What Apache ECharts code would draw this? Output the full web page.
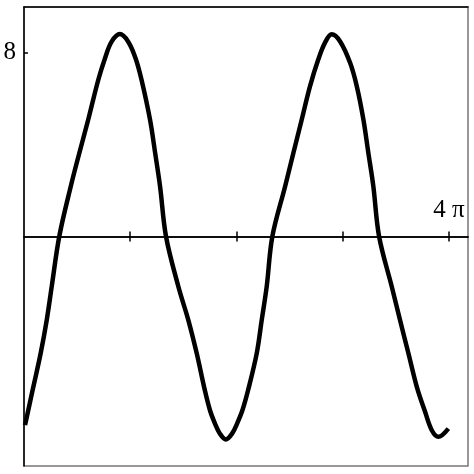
<!DOCTYPE html>
<html>
<head>
<meta charset="utf-8">
<script src="https://cdn.jsdelivr.net/npm/echarts@6/dist/echarts.min.js"></script>
<style>
  html, body { margin: 0; padding: 0; background: #fff; }
  #chart { width: 474px; height: 474px; }
</style>
</head>
<body>
<div id="chart"></div>
<script>
// x positions in units of pi
var xPi = [0.01, 0.088, 0.157, 0.214, 0.261, 0.332, 0.440, 0.521, 0.605, 0.699, 0.762, 0.825, 0.903, 0.981,
    1.051, 1.107, 1.186, 1.234, 1.281, 1.337, 1.453, 1.547, 1.626, 1.700, 1.750, 1.797, 1.843, 1.900, 1.960,
    2.007, 2.057, 2.110, 2.191, 2.238, 2.285, 2.338, 2.458, 2.536, 2.615, 2.693, 2.771, 2.834, 2.897, 2.976,
    3.070, 3.133, 3.195, 3.242, 3.289, 3.343, 3.462, 3.540, 3.619, 3.698, 3.776, 3.839, 3.901, 3.995];
// curve values
var yVal = [-8.22, -6.55, -5.09, -3.64, -2.18, 0, 2.18, 3.64, 5.10, 6.82, 7.76, 8.49, 8.82, 8.49,
    7.76, 6.82, 5.10, 3.66, 2.18, 0, -2.18, -3.64, -5.09, -6.65, -7.56, -8.14, -8.58, -8.84, -8.58,
    -8.14, -7.56, -6.69, -5.09, -3.64, -2.18, 0, 2.18, 3.64, 5.10, 6.55, 7.72, 8.45, 8.81, 8.50,
    7.57, 6.55, 5.10, 3.64, 2.18, 0, -2.18, -3.64, -5.09, -6.55, -7.64, -8.44, -8.73, -8.37];
var xTicks = [1, 2, 3, 4];
var xLabels = [4];
var yTicks = [-8, 8];
var yLabels = [8];

var chart = echarts.init(document.getElementById('chart'));

var pts = [];
for (var i = 0; i < xPi.length; i++) {
    pts.push([xPi[i], yVal[i]]);
}

var font = "'Liberation Serif', 'DejaVu Serif', serif";
var xMax = 4.18;
// main plot box is 474 - 7 - 8 = 459 px high, so y = 0 sits 229.5 px below its top
var zeroTop = 7 + 229.5;

var option = {
    animation: false,
    grid: [
        { left: 24, right: 6, top: 7, bottom: 8, show: true, borderColor: '#777', borderWidth: 1.5 },
        { left: 24, right: 6, top: 7, bottom: 474 - zeroTop },   // upper half, its bottom edge is the zero line
        { left: 24, right: 6, top: zeroTop, bottom: 8 }          // lower half, its top edge is the zero line
    ],
    xAxis: [
        {   // black top edge, carries the curve
            gridIndex: 0, type: 'value', min: 0, max: xMax, position: 'top',
            axisLine: { onZero: false, lineStyle: { color: '#000', width: 1.5 } },
            axisTick: { show: false },
            axisLabel: { show: false },
            splitLine: { show: false }
        },
        {   // zero line, ticks up, label above
            gridIndex: 1, type: 'value', min: 0, max: xMax, position: 'bottom',
            axisLine: { onZero: false, lineStyle: { color: '#000', width: 1.5 } },
            axisTick: { inside: true, length: 5, customValues: xTicks, lineStyle: { color: '#000', width: 1.5 } },
            axisLabel: {
                inside: true, margin: 14, customValues: xLabels,
                formatter: function () { return '4 \u03c0'; },
                color: '#000', fontFamily: font, fontSize: 25
            },
            splitLine: { show: false }
        },
        {   // zero line, ticks down
            gridIndex: 2, type: 'value', min: 0, max: xMax, position: 'top',
            axisLine: { onZero: false, lineStyle: { color: '#000', width: 1.5 } },
            axisTick: { inside: true, length: 5, customValues: xTicks, lineStyle: { color: '#000', width: 1.5 } },
            axisLabel: { show: false },
            splitLine: { show: false }
        }
    ],
    yAxis: [
        {
            gridIndex: 0, type: 'value', min: -10, max: 10, position: 'left',
            axisLine: { onZero: false, lineStyle: { color: '#000', width: 1.5 } },
            axisTick: { inside: true, length: 4, customValues: yTicks, lineStyle: { color: '#000', width: 1.5 } },
            axisLabel: {
                margin: 8, customValues: yLabels,
                color: '#000', fontFamily: font, fontSize: 25
            },
            splitLine: { show: false }
        },
        { gridIndex: 1, type: 'value', min: 0, max: 10, show: false },
        { gridIndex: 2, type: 'value', min: -10, max: 0, show: false }
    ],
    series: [
        {
            type: 'line',
            xAxisIndex: 0,
            yAxisIndex: 0,
            data: pts,
            showSymbol: false,
            smooth: 0.35,
            lineStyle: { color: '#000', width: 4.5, join: 'round' }
        }
    ]
};
chart.setOption(option);
</script>
</body>
</html>
